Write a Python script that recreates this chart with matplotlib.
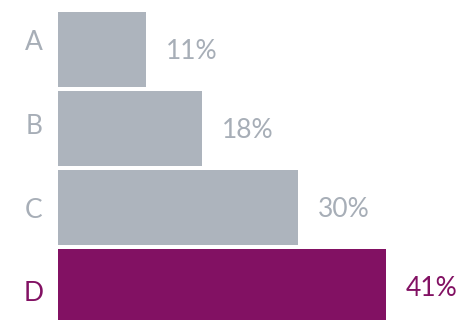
import matplotlib.pyplot as plt

categories = ['A', 'B', 'C', 'D']
values = [11, 18, 30, 41]
grey = '#adb4bd'
purple = '#821163'
colors = [grey, grey, grey, purple]
text_colors = ['#a7aeb7', '#a7aeb7', '#a7aeb7', purple]

plt.rcParams['font.family'] = ['Lato', 'DejaVu Sans']

fig = plt.figure(figsize=(4.67, 3.2), dpi=100)
ax = fig.add_axes([58 / 467, 0, 1 - 58 / 467, (320 - 12) / 320])

y = range(len(categories))
ax.barh(y, values, height=0.95, color=colors)
ax.set_xlim(0, (467 - 58) / 8.0)
ax.set_ylim(-0.475 + 308 / 79, -0.475)

for i, (v, c) in enumerate(zip(values, text_colors)):
    ax.text(v + 2.5, i + 0.03, f'{v}%', va='center', ha='left', fontsize=19,
            color=c)
    # category labels sit on a slightly wider pitch than the bars
    ax.text(-3.0, -0.083 + 1.059 * i, categories[i], va='center', ha='center',
            fontsize=19, color=c, clip_on=False)

ax.axis('off')
fig.savefig('out.png', dpi=100)
